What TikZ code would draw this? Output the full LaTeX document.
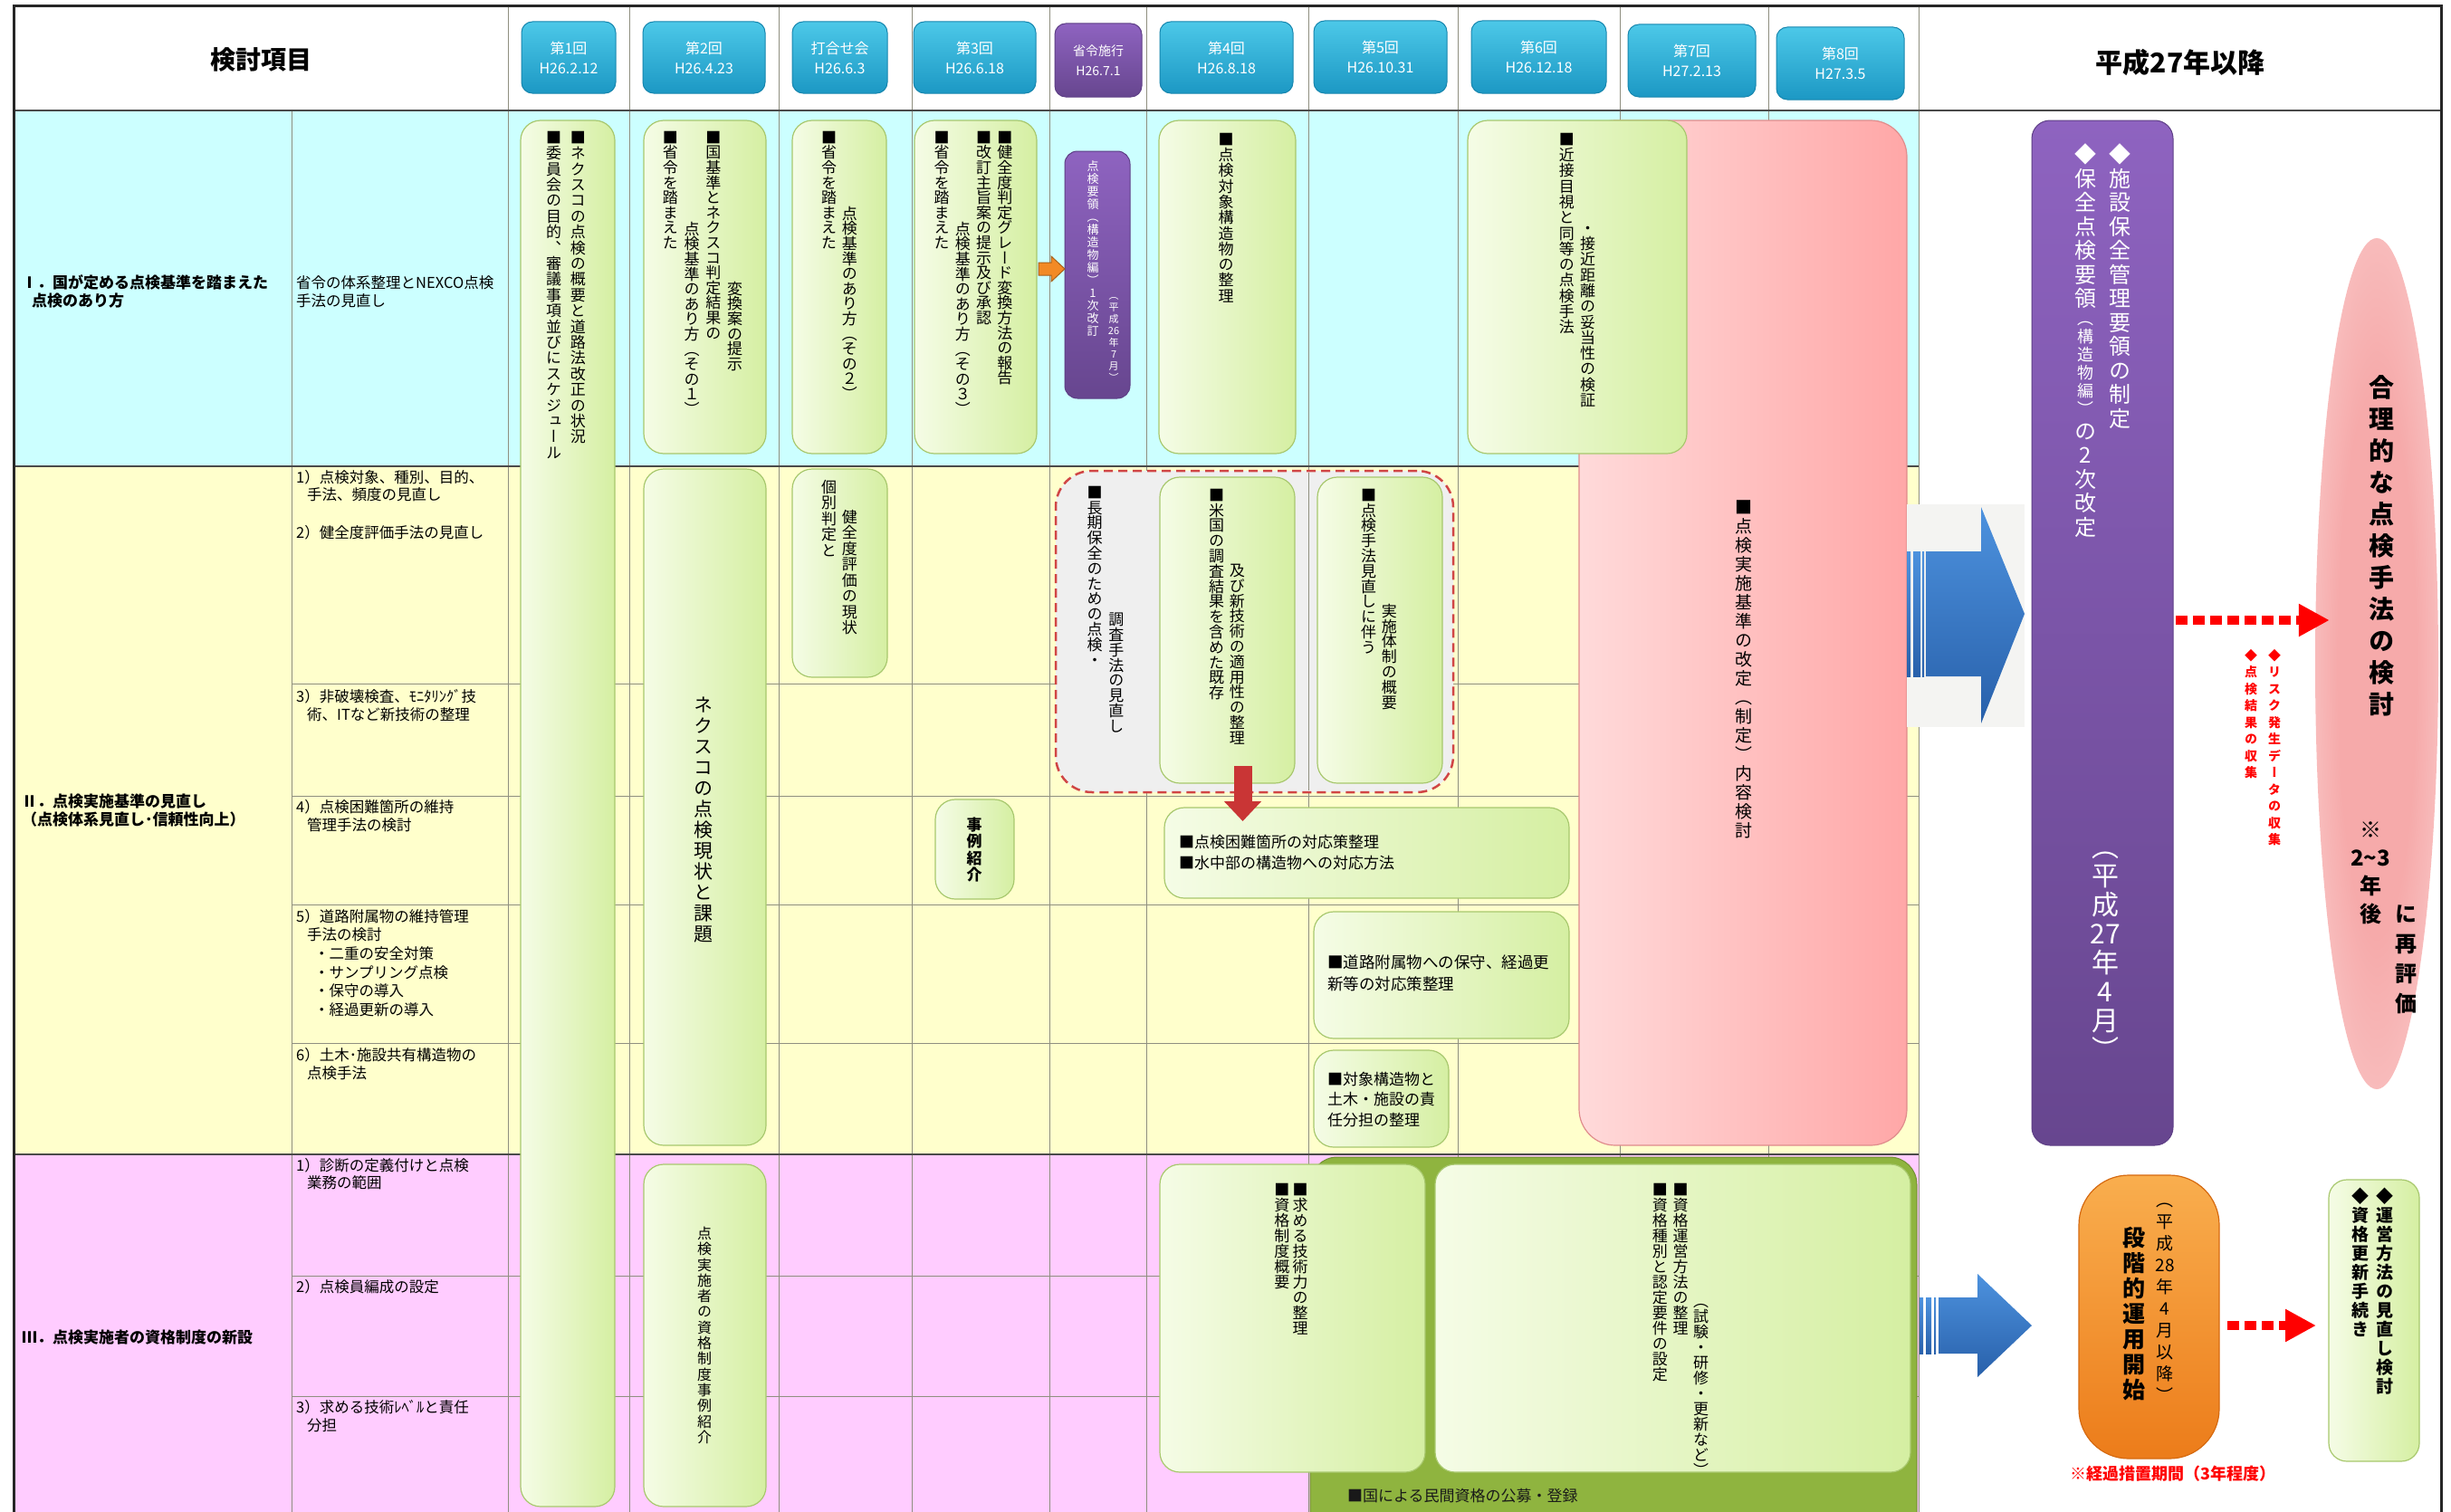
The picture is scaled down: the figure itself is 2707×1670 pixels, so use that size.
\documentclass[tikz,border=0pt]{standalone}
\usepackage{fontspec}
\setmainfont{Noto Sans CJK JP}
\newfontfamily\vjp[RawFeature={+vert}]{Noto Sans CJK JP}
\usetikzlibrary{arrows.meta,calc,shapes.geometric}

% palette
\definecolor{cyanbg}{HTML}{CCFFFF}
\definecolor{yelbg}{HTML}{FFFFCC}
\definecolor{pinkbg}{HTML}{FFCCFF}
\definecolor{gridc}{HTML}{8F8F80}
\definecolor{secc}{HTML}{4A4A4A}
\definecolor{gA}{HTML}{F5FCE6}
\definecolor{gB}{HTML}{D5EFA2}
\definecolor{gline}{HTML}{A8C86E}
\definecolor{hA}{HTML}{4CC8E8}
\definecolor{hB}{HTML}{1C98C4}
\definecolor{hline}{HTML}{1786AE}
\definecolor{pA}{HTML}{8E63C0}
\definecolor{pB}{HTML}{67468F}
\definecolor{pline}{HTML}{5E3F86}
\definecolor{pkA}{HTML}{FFDADA}
\definecolor{pkB}{HTML}{FFA7A7}
\definecolor{pkline}{HTML}{E08C8C}
\definecolor{olv}{HTML}{8FB43F}
\definecolor{oA}{HTML}{F9AE4E}
\definecolor{oB}{HTML}{EC7C1A}
\definecolor{oline}{HTML}{D66A10}
\definecolor{bA}{HTML}{4D92DE}
\definecolor{bB}{HTML}{2860AA}
\definecolor{dfill}{HTML}{EFEFEF}
\definecolor{dline}{HTML}{D04545}
\definecolor{rarr}{HTML}{C93535}
\definecolor{orarr}{HTML}{F28A25}
\definecolor{ellA}{HTML}{F6AAAA}
\definecolor{ellB}{HTML}{FAD0D0}
\definecolor{patch}{HTML}{F4F4F2}
\pgfdeclareradialshading{ellpink}{\pgfpoint{0bp}{0bp}}{color(0bp)=(ellA); color(16bp)=(ellA); color(36bp)=(ellB); color(47bp)=(white); color(50bp)=(white)}

% vertical (tategaki) columns: one glyph or braced group per cell
\ExplSyntaxOn
\dim_new:N \l_tcol_wd_dim
\NewDocumentCommand \tcolx { O{0pt} m }
  {
    \vtop
      {
        \dim_set:Nn \l_tcol_wd_dim { 1.1em }
        \lineskiplimit = -\maxdimen
        \baselineskip = \tcolpitch \relax
        \vskip #1 \relax
        #2
      }
  }
\NewDocumentCommand \tseg { m }
  {
    \tl_map_inline:nn {#1}
      { \hbox_to_wd:nn { \l_tcol_wd_dim } { \hss ##1 \hss } }
  }
\NewDocumentCommand \tcol { O{0pt} m } { \tcolx [#1] { \tseg {#2} } }
\ExplSyntaxOff
\newcommand\tcolpitch{1.03em}
\newcommand\vsz[2]{\fontsize{#1}{#1}\selectfont\renewcommand\tcolpitch{#2}}
\newcommand\boxnode[7]{\node[#2,inner sep=0pt,outer sep=0pt,minimum width={#5-#3},minimum height={#6-#4}] (#1) at ({(#3+#5)/2},{(#4+#6)/2}) {#7};}

\begin{document}
\begin{tikzpicture}[x=1pt,y=-1pt,
  gridline/.style={draw=gridc,line width=1pt},
  secline/.style={draw=secc,line width=2pt},
  gbox/.style={draw=gline,line width=1.2pt,rounded corners=22pt,left color=gA,right color=gB},
  pbox/.style={draw=pline,line width=1pt,rounded corners=14pt,top color=pA,bottom color=pB},
  pinkbox/.style={draw=pkline,line width=1.2pt,rounded corners=40pt,left color=pkA,right color=pkB},
  dbox/.style={fill=dfill,draw=dline,line width=2.5pt,dash pattern=on 10pt off 6pt,rounded corners=40pt},
  olbox/.style={fill=olv,draw=olv!80!black,line width=1pt,rounded corners=30pt},
  orbox/.style={top color=oA,bottom color=oB,draw=oline,line width=1.2pt,rounded corners=55pt},
  hbtn/.style={rounded corners=12pt,draw=hline,line width=1pt,top color=hA,bottom color=hB,text=white,align=center,font=\fontsize{16}{22}\selectfont},
  pbtn/.style={rounded corners=12pt,draw=pline,line width=1pt,top color=pA,bottom color=pB,text=white,align=center,font=\fontsize{14}{22}\selectfont},
  vt/.style={inner sep=0pt,outer sep=0pt,anchor=north,font=\vjp},
  lt/.style={anchor=west,align=left,inner sep=0pt,font=\fontsize{16.5}{19.5}\selectfont},
  bt/.style={font=\bfseries\fontsize{17}{19.5}\selectfont},
  ht/.style={anchor=west,align=left,inner sep=0pt,font=\fontsize{17}{23}\selectfont},
  reddot/.style={draw=red,line width=10pt,dash pattern=on 13pt off 6pt,-{Triangle[width=34pt,length=34pt]}}]

\useasboundingbox (0,0) rectangle (2707,1670);
\fill[white] (0,0) rectangle (2707,1670);

% section bands
\fill[cyanbg] (15,122) rectangle (2119,515);
\fill[yelbg] (15,515) rectangle (2119,1275);
\fill[pinkbg] (15,1275) rectangle (2119,1670);

% grid
\foreach \x in {561,695,860,1007,1159,1266,1445,1610,1789,1953,2119}
  \draw[gridline] (\x,7) -- (\x,1670);
\draw[gridline] (322,122) -- (322,1670);
\foreach \y in {755,879,999,1152,1409,1542}
  \draw[gridline] (322,\y) -- (2119,\y);
\draw[secline] (15,122) -- (2696,122);
\draw[secline] (15,515) -- (2119,515);
\draw[secline] (15,1275) -- (2119,1275);

% header
\node[font=\bfseries\fontsize{28}{28}\selectfont] (hd1) at (288,66) {検討項目};
\node[font=\bfseries\fontsize{30}{30}\selectfont] (hd2) at (2408,69) {平成27年以降};
\boxnode{h1}{hbtn}{576}{24}{680}{103}{第1回\\H26.2.12}
\boxnode{h2}{hbtn}{710}{24}{845}{103}{第2回\\H26.4.23}
\boxnode{h3}{hbtn}{875}{24}{980}{103}{打合せ会\\H26.6.3}
\boxnode{h4}{hbtn}{1009}{24}{1144}{103}{第3回\\H26.6.18}
\boxnode{hp}{pbtn}{1165}{26}{1261}{107}{省令施行\\H26.7.1}
\boxnode{h5}{hbtn}{1281}{24}{1428}{103}{第4回\\H26.8.18}
\boxnode{h6}{hbtn}{1451}{23}{1598}{103}{第5回\\H26.10.31}
\boxnode{h7}{hbtn}{1625}{23}{1774}{103}{第6回\\H26.12.18}
\boxnode{h8}{hbtn}{1798}{27}{1939}{107}{第7回\\H27.2.13}
\boxnode{h9}{hbtn}{1962}{30}{2103}{110}{第8回\\H27.3.5}

% item column
\node[lt,bt] (s1) at (24,322) {Ⅰ．国が定める点検基準を踏まえた\\\hspace*{11pt}点検のあり方};
\node[lt] (s1a) at (327,322) {省令の体系整理とNEXCO点検\\手法の見直し};
\node[lt,bt] (s2) at (24,895) {Ⅱ．点検実施基準の見直し\\（点検体系見直し･信頼性向上）};
\node[lt] (s2a) at (327,536.5) {1）点検対象、種別、目的、\\\hspace*{12pt}手法、頻度の見直し};
\node[lt] (s2b) at (327,588) {2）健全度評価手法の見直し};
\node[lt] (s2c) at (327,779) {3）非破壊検査、ﾓﾆﾀﾘﾝｸﾞ技\\\hspace*{12pt}術、ITなど新技術の整理};
\node[lt] (s2d) at (327,901) {4）点検困難箇所の維持\\\hspace*{12pt}管理手法の検討};
\node[lt,font=\fontsize{16.5}{20.7}\selectfont] (s2e) at (327,1063.5) {5）道路附属物の維持管理\\\hspace*{12pt}手法の検討\\\hspace*{20pt}・二重の安全対策\\\hspace*{20pt}・サンプリング点検\\\hspace*{20pt}・保守の導入\\\hspace*{20pt}・経過更新の導入};
\node[lt] (s2f) at (327,1175) {6）土木･施設共有構造物の\\\hspace*{12pt}点検手法};
\node[lt,bt] (s3) at (24,1477) {Ⅲ．点検実施者の資格制度の新設};
\node[lt] (s3a) at (327,1296.5) {1）診断の定義付けと点検\\\hspace*{12pt}業務の範囲};
\node[lt] (s3b) at (327,1421) {2）点検員編成の設定};
\node[lt] (s3c) at (327,1564) {3）求める技術ﾚﾍﾞﾙと責任\\\hspace*{12pt}分担};

% large pink review box
\boxnode{pinkbig}{pinkbox}{1744}{133}{2106}{1265}{}

% section I boxes
\boxnode{g1}{gbox}{575}{133}{679}{1664}{}
\boxnode{g2}{gbox}{711}{133}{846}{501}{}
\boxnode{g3}{gbox}{875}{133}{979}{501}{}
\boxnode{g4}{gbox}{1010}{133}{1145}{501}{}
\boxnode{shorei}{pbox}{1176}{167}{1248}{440}{}
\boxnode{g5}{gbox}{1280}{133}{1431}{501}{}
\boxnode{g6}{gbox}{1621}{133}{1863}{501}{}
\filldraw[fill=orarr,draw=orarr!70!black,line width=1pt] (1147,290) -- (1161,290) -- (1161,283) -- (1176,297) -- (1161,311) -- (1161,304) -- (1147,304) -- cycle;

% section II boxes
\boxnode{g7}{gbox}{711}{518}{846}{1265}{}
\boxnode{g8}{gbox}{875}{518}{980}{748}{}
\boxnode{g9}{gbox}{1033}{883}{1120}{993}{}
\boxnode{dash}{dbox}{1166}{520}{1605}{875}{}
\draw[gridline] (1445,522) -- (1445,873);
\boxnode{g10}{gbox}{1281}{527}{1430}{865}{}
\boxnode{g11}{gbox}{1455}{527}{1593}{865}{}
\boxnode{g12}{gbox}{1286}{892}{1733}{992}{}
\boxnode{g13}{gbox}{1451}{1007}{1733}{1147}{}
\boxnode{g14}{gbox}{1451}{1160}{1600}{1267}{}

% section III boxes
\begin{scope}
  \clip (15,0) rectangle (2707,1670);
  \boxnode{olive}{olbox}{1447}{1278}{2117}{1720}{}
\end{scope}
\boxnode{g15}{gbox}{711}{1286}{846}{1664}{}
\boxnode{g16}{gbox}{1281}{1286}{1574}{1626}{}
\boxnode{g17}{gbox}{1585}{1286}{2110}{1626}{}

% outcome column
\fill[patch] (2106,557) rectangle (2236,803);
\foreach \a/\b in {2106/2110,2113/2121,2123/2125}
  \shade[top color=bA,bottom color=bB] (\a,609) rectangle (\b,747);
\shade[top color=bA,bottom color=bB] (2127,609) -- (2188,609) -- (2188,560) -- (2236,678) -- (2188,799) -- (2188,747) -- (2127,747) -- cycle;
\foreach \a/\b in {2120/2124,2127/2133,2136/2138}
  \shade[top color=bA,bottom color=bB] (\a,1433) rectangle (\b,1495);
\shade[top color=bA,bottom color=bB] (2141,1433) -- (2184,1433) -- (2184,1407) -- (2244,1464) -- (2184,1521) -- (2184,1495) -- (2141,1495) -- cycle;
\boxnode{purbig}{pbox,rounded corners=20pt}{2244}{133}{2400}{1265}{}
\node[ellipse,shade,shading=ellpink,minimum width=136,minimum height=940,inner sep=0pt] (ell) at (2625,733) {};
\boxnode{orng}{orbox}{2296}{1298}{2451}{1611}{}
\boxnode{g18}{gbox,rounded corners=20pt}{2572}{1303}{2672}{1614}{}

% vertical texts, section I
\node[vt] (v1) at (625,145) {\vsz{17}{17.4pt}\tcol{■委員会の目的、審議事項並びにスケジュール}\hspace{8pt}\tcol{■ネクスコの点検の概要と道路法改正の状況}};
\node[vt] (v2) at (776,145) {\vsz{17}{16.6pt}\tcol{■省令を踏まえた}\hspace{5pt}\tcol[100pt]{点検基準のあり方（その１）}\hspace{5pt}\tcol{■国基準とネクスコ判定結果の}\hspace{5pt}\tcol[166pt]{変換案の提示}};
\node[vt] (v3) at (927,145) {\vsz{17}{16.6pt}\tcol{■省令を踏まえた}\hspace{4pt}\tcol[83pt]{点検基準のあり方（その２）}};
\node[vt] (v4) at (1075,145) {\vsz{17}{16.6pt}\tcol{■省令を踏まえた}\hspace{4.5pt}\tcol[100pt]{点検基準のあり方（その３）}\hspace{4.5pt}\tcol{■改訂主旨案の提示及び承認}\hspace{4.5pt}\tcol{■健全度判定グレード変換方法の報告}};
\node[vt,text=white] (v5) at (1218,178) {\vsz{13}{14pt}\tcol{点検要領（構造物編）1次改訂}\hspace{9.8pt}{\vsz{11}{13pt}\tcol[150pt]{（平成{26}年7月）}}};
\node[vt] (v6) at (1354,147) {\vsz{17}{17.3pt}\tcol{■点検対象構造物の整理}};
\node[vt] (v7) at (1742,147) {\vsz{17}{17.3pt}\tcol{■近接目視と同等の点検手法}\hspace{4.5pt}\tcol[103pt]{・接近距離の妥当性の検証}};
\node[vt] (v8) at (1926,553) {\vsz{19}{21pt}\tcol{■点検実施基準の改定（制定）内容検討}};

% vertical texts, section II
\node[vt] (v9) at (777,770) {\vsz{21}{23pt}\tcol{ネクスコの点検現状と課題}};
\node[vt] (v10) at (927,530) {\vsz{17}{17.5pt}\tcol{個別判定と}\hspace{4pt}\tcol[33pt]{健全度評価の現状}};
\node[vt] (v11) at (1076,903) {\vsz{17}{18.3pt}\bfseries\tcol{事例紹介}};
\node[vt] (v12) at (1221,537) {\vsz{17}{16.8pt}\tcol{■長期保全のための点検・}\hspace{5pt}\tcol[140pt]{調査手法の見直し}};
\node[vt] (v13) at (1355,540) {\vsz{17}{16.8pt}\tcol{■米国の調査結果を含めた既存}\hspace{4pt}\tcol[83pt]{及び新技術の適用性の整理}};
\node[vt] (v14) at (1523,540) {\vsz{17}{16.8pt}\tcol{■点検手法見直しに伴う}\hspace{4pt}\tcol[127pt]{実施体制の概要}};

% horizontal texts, section II
\node[ht] (t12) at (1302,941.5) {■点検困難箇所の対応策整理\\■水中部の構造物への対応方法};
\node[ht,font=\fontsize{17.5}{24}\selectfont] (t13) at (1466,1075) {■道路附属物への保守、経過更\\新等の対応策整理};
\node[ht,font=\fontsize{17}{22.5}\selectfont] (t14) at (1466,1214.5) {■対象構造物と\\土木・施設の責\\任分担の整理};

% section III texts
\node[ht,text=black!90] (tol) at (1488,1652) {■国による民間資格の公募・登録};
\node[vt] (v15) at (778,1355) {\vsz{16}{17.3pt}\tcol{点検実施者の資格制度事例紹介}};
\node[vt] (v16) at (1426,1307) {\vsz{17}{17pt}\tcol{■資格制度概要}\hspace{1.5pt}\tcol{■求める技術力の整理}};
\node[vt] (v17) at (1856,1307) {\vsz{17}{17pt}\tcol{■資格種別と認定要件の設定}\hspace{4pt}\tcol{■資格運営方法の整理}\hspace{4pt}\tcol[133pt]{（試験・研修・更新など）}};

% outcome texts
\node[vt,text=white] (v18) at (2322,159) {\vsz{24}{26.5pt}\tcolx{\tseg{◆保全点検要領}{\fontsize{18}{18}\selectfont\baselineskip=20pt\tseg{（構造物編）}}\tseg{の2次改定}}\hspace{11.6pt}\tcol{◆施設保全管理要領の制定}};
\node[vt,text=white] (v19) at (2325,941) {\vsz{30}{32pt}\tcol{（平成{27}年4月）}};
\node[vt,text=red] (v20) at (2499,717) {\vsz{14}{18.5pt}\bfseries\tcol{◆点検結果の収集}\hspace{10.6pt}\tcol{◆リスク発生データの収集}};
\node[vt] (v21) at (2630,415) {\vsz{28}{35pt}\bfseries\tcol{合理的な点検手法の検討}};
\node[vt] (v22) at (2618,908) {\vsz{24}{31pt}\bfseries\tcol{※{2\string~3}年後}};
\node[vt] (v23) at (2657,1000) {\vsz{24}{33pt}\bfseries\tcol{に再評価}};
\node[vt] (v24a) at (2357,1355) {\vsz{25}{28pt}\bfseries\tcol{段階的運用開始}};
\node[vt] (v24b) at (2391,1329) {\vsz{19}{24pt}\tcol{（平成{28}年4月以降）}};
\node[text=red,font=\bfseries\fontsize{18}{18}\selectfont,inner sep=0pt] (note) at (2400,1628) {※経過措置期間（3年程度）};
\node[vt] (v25) at (2620.5,1312) {\vsz{19}{21pt}\bfseries\tcol{◆資格更新手続き}\hspace{6pt}\tcol{◆運営方法の見直し検討}};

% connectors
\coordinate (rdtop) at ($(g10.south)+(17,-19)$);
\draw[rarr,line width=20pt,-{Triangle[width=40pt,length=22pt]}] (rdtop) -- ($(rdtop |- g12.north)+(0,15)$);
\draw[reddot] ($(purbig.east)+(3,-14)$) -- ($(ell.west)+(16,-48)$);
\draw[reddot] ($(orng.east)+(9,9.5)$) -- ($(g18.west)+(-14,5.5)$);

% frame
\draw[line width=3pt,black!85] (15,1670) -- (15,7) -- (2696,7) -- (2696,1670);
\end{tikzpicture}
\end{document}
